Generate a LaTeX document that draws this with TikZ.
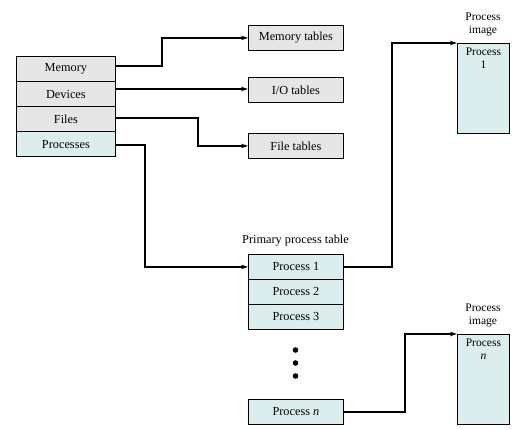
\documentclass[tikz,border=0pt]{standalone}
\usepackage{fontspec}
\setmainfont{Liberation Serif}
\usetikzlibrary{arrows.meta}
\definecolor{gbox}{HTML}{E6E6E6}
\definecolor{tbox}{HTML}{DCEDED}
\begin{document}
\begin{tikzpicture}[x=1pt,y=-1pt,
  every node/.style={font=\fontsize{12.3}{13}\selectfont},
  cell/.style={draw, line width=0.8pt, minimum width=99pt, minimum height=25pt, inner sep=0pt, anchor=north west},
  tcell/.style={draw, line width=0.8pt, minimum width=95pt, minimum height=25pt, inner sep=0pt, anchor=north west},
  img/.style={draw, line width=0.8pt, fill=tbox, minimum width=52pt, minimum height=90pt, anchor=north west, inner sep=0pt},
  conn/.style={line width=1.3pt, -{Stealth[length=7pt,width=4.5pt]}},
  lbl/.style={align=center, inner sep=0pt, font=\fontsize{11.5}{12.5}\selectfont}]
\useasboundingbox (0,0) rectangle (521,430);
% left table
\node[cell, fill=gbox] (mem) at (16,56) {Memory};
\node[cell, fill=gbox] (dev) at (16,81.5) {Devices};
\node[cell, fill=gbox] (fil) at (16,106.5) {Files};
\node[cell, fill=tbox] (pro) at (16,131.5) {Processes};
% tables
\node[tcell, fill=gbox] (mt) at (248,25) {Memory tables};
\node[tcell, fill=gbox] (iot) at (248,77) {I/O tables};
\node[tcell, fill=gbox] (ft) at (248,133) {File tables};
% primary process table
\node[inner sep=0pt] (ptl) at (295.5,241) {Primary process table};
\node[tcell, fill=tbox] (p1) at (248,254) {Process 1};
\node[tcell, fill=tbox] (p2) at (248,279) {Process 2};
\node[tcell, fill=tbox] (p3) at (248,304) {Process 3};
\node[tcell, fill=tbox] (pn) at (248,399) {Process \textit{n}};
\fill (295.5,350) circle (2.8pt) (295.5,363) circle (2.8pt) (295.5,376) circle (2.8pt);
% process images
\node[img] (im1) at (457,43) {};
\node[lbl, anchor=south] (im1l) at (483,36) {Process\\image};
\node[lbl, anchor=north] (im1t) at (im1.north) [yshift=-5pt] {Process\\1};
\node[img] (imn) at (457,334) {};
\node[lbl, anchor=south] (imnl) at (483,327) {Process\\image};
\node[lbl, anchor=north] (imnt) at (imn.north) [yshift=-5pt] {Process\\\textit{n}};
% connectors
\draw[conn] (mem.east |- 0,66) -| (162,50) |- (mt.west);
\draw[conn] (dev.east |- 0,89) -- (iot.west |- 0,89);
\draw[conn] (fil.east |- 0,118) -| (198,130) |- (ft.west);
\draw[conn] (pro.east |- 0,145) -| (145,200) |- (p1.west);
\draw[conn] (p1.east) -| (392,100) |- (im1.north west);
\draw[conn] (pn.east) -| (405,380) |- (imn.north west);
\end{tikzpicture}
\end{document}
